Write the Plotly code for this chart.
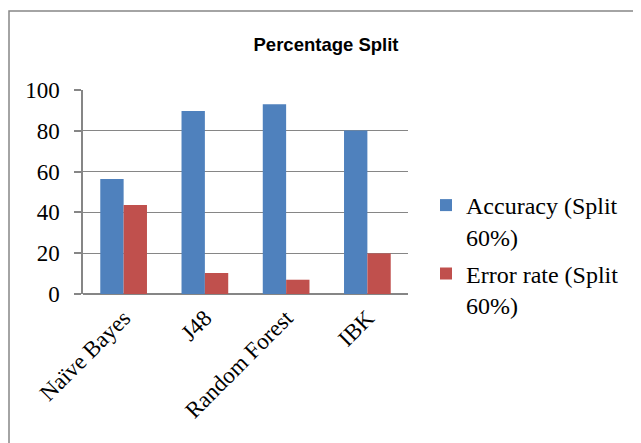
import plotly.graph_objects as go

categories = ["Naïve Bayes", "J48", "Random Forest", "IBK"]
accuracy = [56.4, 89.7, 93.0, 80.1]
error_rate = [43.6, 10.3, 7.0, 19.9]
series_names = ["Accuracy (Split<br>60%)", "Error rate (Split<br>60%)"]
y_ticks = [0, 20, 40, 60, 80, 100]

# page body has an 8px margin; work in figure coordinates
OFF = 8
W, H = 641 - OFF, 443 - OFF
L, R, T, B = 83 - OFF, 408 - OFF, 90 - OFF, 294 - OFF

def px_x(p):
    return (p - OFF - L) / (R - L)

def px_y(p):
    return (B - (p - OFF)) / (B - T)

fig = go.Figure()
fig.add_trace(go.Bar(x=categories, y=accuracy, name=series_names[0], legendgroup="a",
                     marker=dict(color="#4F81BD", line=dict(width=0))))
fig.add_trace(go.Bar(x=categories, y=error_rate, name=series_names[1], legendgroup="b",
                     marker=dict(color="#C0504D", line=dict(width=0))))

serif = "Liberation Serif, Times New Roman, serif"
gray = "#868686"
fs = 23

fig.update_layout(
    width=W, height=H,
    margin=dict(l=L, r=W - R, t=T, b=H - B, pad=0, autoexpand=False),
    paper_bgcolor="white", plot_bgcolor="white",
    barmode="group", bargap=0.425, bargroupgap=0,
    title=dict(text="<b>Percentage Split</b>", x=(326 - OFF) / W, xanchor="center",
               y=1 - (45 - OFF) / H, yanchor="middle", yref="container",
               font=dict(family="Liberation Sans, Arial, sans-serif", size=18.5, color="black")),
    font=dict(family=serif, size=fs, color="black"),
    showlegend=True,
    legend=dict(x=px_x(426), xanchor="left", y=px_y(255), yanchor="middle",
                font=dict(family=serif, size=24, color="black"), valign="top",
                tracegroupgap=3, itemwidth=30, bgcolor="rgba(0,0,0,0)"),
    xaxis=dict(tickangle=-45, showgrid=False, showline=False, ticks="",
               ticklabelstandoff=5,
               tickfont=dict(family=serif, size=fs, color="black"), fixedrange=True),
    yaxis=dict(range=[0, 100], tickvals=y_ticks, showgrid=True, gridcolor=gray, gridwidth=1.3,
               showline=True, linecolor=gray, linewidth=1.5, ticks="outside", ticklen=7,
               tickcolor=gray, tickwidth=1.5, zeroline=True, zerolinecolor=gray, zerolinewidth=1.5,
               ticklabelstandoff=10,
               tickfont=dict(family=serif, size=fs, color="black")),
    shapes=[dict(type="rect", xref="paper", yref="paper",
                 x0=px_x(9), x1=px_x(660), y0=px_y(11), y1=px_y(460),
                 line=dict(color=gray, width=1.5), fillcolor="rgba(0,0,0,0)", layer="below")],
)

fig.write_html("out.html")
